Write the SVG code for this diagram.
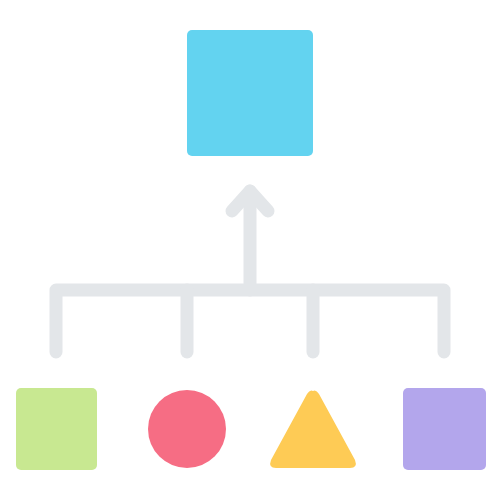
<svg xmlns="http://www.w3.org/2000/svg" width="500" height="500" viewBox="0 0 500 500">
<style>
.conn{fill:none;stroke:#E3E6E9;stroke-width:13;stroke-linecap:round;stroke-linejoin:round}
</style>
<rect width="500" height="500" fill="#ffffff"/>
<g id="connectors">
<path class="conn" d="M56,352 V290 H444 V352"/>
<path class="conn" d="M187,290 V352"/>
<path class="conn" d="M313,290 V352"/>
<path class="conn" d="M250,290 V191"/>
<path class="conn" d="M232,211 L250,191 L268,211"/>
</g>
<g id="top"><rect x="187" y="30" width="126" height="126" rx="5" fill="#63D3F0"/></g>
<g id="square-green"><rect x="16" y="388" width="81" height="82" rx="5" fill="#C8E891"/></g>
<g id="circle-red"><circle cx="187" cy="429" r="39" fill="#F66D84"/></g>
<g id="triangle-yellow"><path d="M313,391 Q316,389 319,394 L355,460 Q358,468 350,468 L276,468 Q268,468 271,460 L307,394 Q310,389 313,391 Z" fill="#FECB55"/></g>
<g id="square-purple"><rect x="403" y="388" width="83" height="82" rx="5" fill="#B3A6EC"/></g>
</svg>
